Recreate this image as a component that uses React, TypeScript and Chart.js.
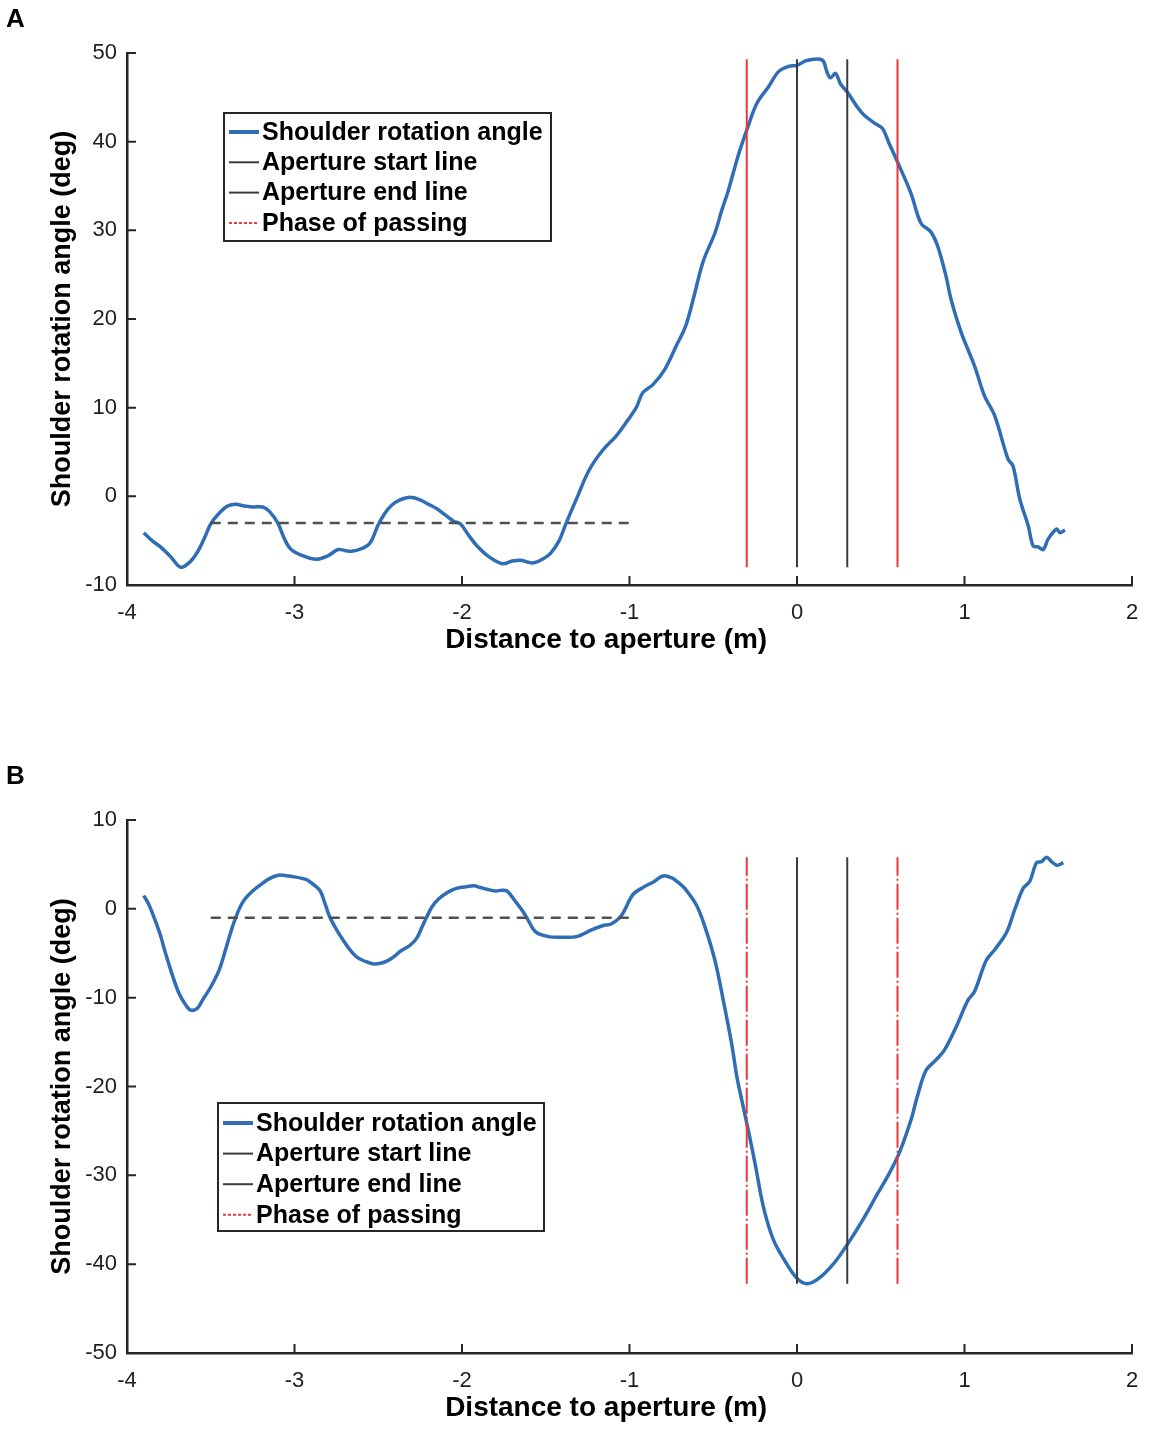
import { useEffect, useRef } from "react";
import { Chart, registerables } from "chart.js";

Chart.register(...registerables);

// ---- Panel A: shoulder rotation, first trial ----
const distA = [
  -3.9, -3.85, -3.8, -3.74, -3.68, -3.63, -3.58, -3.54, -3.5, -3.45, -3.4, -3.35, -3.3, -3.25,
  -3.19, -3.15, -3.1, -3.06, -3.02, -2.95, -2.87, -2.8, -2.74, -2.7, -2.66, -2.6, -2.55, -2.5,
  -2.46, -2.42, -2.37, -2.31, -2.25, -2.2, -2.15, -2.1, -2.05, -2.01, -1.96, -1.91, -1.84, -1.76,
  -1.7, -1.65, -1.61, -1.57, -1.52, -1.47, -1.42, -1.38, -1.31, -1.24, -1.16, -1.08, -1.01, -0.96,
  -0.92, -0.86, -0.79, -0.72, -0.665, -0.62, -0.56, -0.49, -0.45, -0.41, -0.35, -0.3, -0.24, -0.17,
  -0.11, -0.05, 0, 0.05, 0.1, 0.14, 0.16, 0.18, 0.2, 0.23, 0.26, 0.3, 0.36, 0.4, 0.47, 0.51, 0.55,
  0.6, 0.68, 0.74, 0.8, 0.84, 0.89, 0.92, 0.98, 1.06, 1.12, 1.18, 1.26, 1.29, 1.33, 1.38, 1.41,
  1.44, 1.47, 1.5, 1.55, 1.57, 1.6,
];
const angleA = [
  -4.1, -5.0, -5.7, -6.8, -8.0, -7.5, -6.3, -4.8, -3.1, -1.9, -1.1, -0.9, -1.1, -1.2,
  -1.2, -1.7, -3.0, -4.8, -6.0, -6.7, -7.1, -6.7, -6.0, -6.1, -6.2, -5.9, -5.3, -3.2,
  -1.9, -1.0, -0.4, -0.1, -0.4, -0.9, -1.4, -2.1, -2.8, -3.1, -4.4, -5.6, -6.8, -7.6,
  -7.3, -7.2, -7.4, -7.5, -7.1, -6.4, -5.0, -3.1, 0.0, 3.0, 5.2, 6.8, 8.6, 10.0,
  11.7, 12.6, 14.3, 17.0, 19.2, 22.2, 26.5, 29.7, 32.2, 34.5, 38.5, 41.3, 44.3, 46.2,
  47.9, 48.5, 48.6, 49.1, 49.3, 49.3, 49.0, 47.8, 47.2, 47.7, 46.5, 45.6, 43.9, 43.0, 42.0, 41.5, 39.8,
  37.7, 34.2, 30.8, 29.8, 28.2, 24.8, 22.2, 18.5, 14.7, 11.3, 9.1, 4.2, 3.4, -0.3, -3.3, -5.6,
  -5.7, -6.0, -4.8, -3.7, -4.1, -3.8,
];

// ---- Panel B: shoulder rotation, second trial ----
const distB = [
  -3.9, -3.87, -3.84, -3.8, -3.77, -3.73, -3.69, -3.65, -3.62, -3.58, -3.55, -3.5, -3.45, -3.41,
  -3.37, -3.33, -3.3, -3.25, -3.21, -3.15, -3.09, -3.04, -3.0, -2.95, -2.92, -2.85, -2.82, -2.79,
  -2.75, -2.71, -2.67, -2.63, -2.58, -2.53, -2.48, -2.44, -2.4, -2.37, -2.31, -2.27, -2.24, -2.21,
  -2.18, -2.14, -2.09, -2.05, -2.01, -1.97, -1.93, -1.89, -1.85, -1.8, -1.76, -1.73, -1.68, -1.64,
  -1.61, -1.56, -1.49, -1.4, -1.31, -1.23, -1.16, -1.11, -1.05, -0.98, -0.92, -0.86, -0.8, -0.75,
  -0.71, -0.67, -0.6, -0.55, -0.49, -0.44, -0.39, -0.36, -0.33, -0.29, -0.25, -0.2, -0.14, -0.07,
  0, 0.06, 0.13, 0.22, 0.3, 0.39, 0.48, 0.55, 0.61, 0.68, 0.72, 0.77, 0.83, 0.88, 0.95, 1.02,
  1.06, 1.13, 1.18, 1.25, 1.3, 1.35, 1.39, 1.43, 1.46, 1.49, 1.52, 1.55, 1.57, 1.59,
];
const angleB = [
  1.5, 0.5, -0.9, -3.0, -5.0, -7.4, -9.5, -10.8, -11.4, -11.2, -10.3, -8.8, -6.9, -4.5,
  -2.0, 0.0, 1.0, 2.0, 2.6, 3.4, 3.8, 3.7, 3.6, 3.4, 3.2, 2.1, 0.7, -0.9,
  -2.3, -3.5, -4.6, -5.4, -5.9, -6.2, -6.1, -5.8, -5.3, -4.8, -4.1, -3.3, -2.1, -0.9,
  0.2, 1.1, 1.8, 2.2, 2.4, 2.5, 2.6, 2.4, 2.2, 2.0, 2.1, 2.0, 0.8, -0.2,
  -1.1, -2.6, -3.1, -3.2, -3.1, -2.4, -1.9, -1.7, -0.8, 1.6, 2.4, 3.0, 3.7, 3.5,
  3.0, 2.3, 0.4, -2.0, -5.8, -10.3, -15.2, -18.8, -21.5, -25.0, -28.7, -33.6, -37.3, -39.7,
  -41.6, -42.2, -41.6, -39.9, -37.8, -35.1, -32.1, -29.8, -27.5, -23.8, -21.0, -18.2, -17.0, -15.9, -13.3, -10.3,
  -9.3, -5.8, -4.6, -2.7, -0.1, 2.3, 3.1, 5.2, 5.3, 5.8, 5.3, 4.9, 5.0, 5.2,
];

const xTicks = [-4, -3, -2, -1, 0, 1, 2];
const yTicksA = [-10, 0, 10, 20, 30, 40, 50];
const yTicksB = [-50, -40, -30, -20, -10, 0, 10];

const apertureStart = 0;
const apertureEnd = 0.3;
const phaseStart = -0.3;
const phaseEnd = 0.6;
const baselineFrom = -3.5;
const baselineTo = -1.0;
const baselineA = -3;
const baselineB = -1;

const INK = "#262626";
const BLUE = "#2f6db5";
const RED = "#e8383a";
const GRAY = "#3c3c3c";
const FONT = "Helvetica, Arial, 'Liberation Sans', sans-serif";

const matlabAxes = {
  id: "matlabAxes",
  afterDraw(chart: any, _args: any, opts: any) {
    const { ctx, chartArea } = chart;
    const xs = chart.scales.x;
    const ys = chart.scales.y;
    ctx.save();
    // inward tick marks
    ctx.strokeStyle = INK;
    ctx.lineWidth = 2;
    ctx.setLineDash([]);
    ctx.beginPath();
    xs.ticks.forEach((t: any) => {
      const px = xs.getPixelForValue(t.value);
      ctx.moveTo(px, chartArea.bottom);
      ctx.lineTo(px, chartArea.bottom - 9);
    });
    ys.ticks.forEach((t: any) => {
      const py = ys.getPixelForValue(t.value);
      ctx.moveTo(chartArea.left, py);
      ctx.lineTo(chartArea.left + 9, py);
    });
    ctx.stroke();

    // panel letter
    ctx.fillStyle = "#000";
    ctx.font = `bold 26px ${FONT}`;
    ctx.textBaseline = "alphabetic";
    ctx.textAlign = "left";
    ctx.fillText(opts.letter, 6, opts.letterBaseline);

    // boxed legend
    const lg = opts.legend;
    ctx.fillStyle = "#fff";
    ctx.fillRect(lg.left, lg.top, lg.width, lg.height);
    ctx.strokeStyle = INK;
    ctx.lineWidth = 2;
    ctx.strokeRect(lg.left, lg.top, lg.width, lg.height);
    const items = chart.data.datasets.filter((d: any) => d.inLegend);
    ctx.font = `bold 25px ${FONT}`;
    ctx.textBaseline = "middle";
    items.forEach((d: any, i: number) => {
      const y = lg.top + lg.firstRow + i * lg.rowGap;
      ctx.strokeStyle = d.borderColor;
      ctx.lineWidth = d.legendWidth ?? d.borderWidth;
      ctx.setLineDash(d.legendDash ?? []);
      ctx.beginPath();
      ctx.moveTo(lg.left + 5, y);
      ctx.lineTo(lg.left + 35, y);
      ctx.stroke();
      ctx.fillStyle = "#000";
      ctx.fillText(d.label, lg.left + 38, y + 1);
    });
    ctx.restore();
  },
};

interface PanelSpec {
  letter: string;
  letterBaseline: number;
  dist: number[];
  angle: number[];
  yTicks: number[];
  baseline: number;
  phaseDash: number[];
  padTop: number;
  xAxisHeight: number;
  xTitlePad: number;
  legend: { left: number; top: number; width: number; height: number; firstRow: number; rowGap: number };
}

function buildConfig(p: PanelSpec): any {
  const hi = Math.max(...p.angle);
  const lo = Math.min(...p.angle);
  const vline = (x: number, label: string, color: string, dash: number[], inLegend: boolean, legendDash?: number[]) => ({
    label,
    data: [{ x, y: lo }, { x, y: hi }],
    borderColor: color,
    borderWidth: 2,
    borderDash: dash,
    legendDash,
    inLegend,
    pointRadius: 0,
    order: 0,
  });
  return {
    type: "line",
    data: {
      datasets: [
        {
          label: "Shoulder rotation angle",
          data: p.dist.map((x, i) => ({ x, y: p.angle[i] })),
          borderColor: BLUE,
          borderWidth: 3.5,
          legendWidth: 4,
          tension: 0.35,
          pointRadius: 0,
          inLegend: true,
          order: 1,
        },
        vline(apertureStart, "Aperture start line", GRAY, [], true),
        vline(apertureEnd, "Aperture end line", GRAY, [], true),
        vline(phaseStart, "Phase of passing", RED, p.phaseDash, true, [3, 2]),
        vline(phaseEnd, "Phase of passing", RED, p.phaseDash, false),
        {
          label: "Baseline",
          data: [{ x: baselineFrom, y: p.baseline }, { x: baselineTo, y: p.baseline }],
          borderColor: "#505050",
          borderWidth: 2.5,
          borderDash: [10, 7],
          pointRadius: 0,
          inLegend: false,
          order: 0,
        },
      ],
    },
    options: {
      animation: false,
      responsive: false,
      events: [],
      layout: { padding: { top: p.padTop, right: 29, left: 0, bottom: 0 } },
      plugins: {
        legend: { display: false },
        tooltip: { enabled: false },
        matlabAxes: { letter: p.letter, letterBaseline: p.letterBaseline, legend: p.legend },
      },
      scales: {
        x: {
          type: "linear",
          min: -4,
          max: 2,
          afterBuildTicks: (s: any) => {
            s.ticks = xTicks.map((value) => ({ value }));
          },
          afterFit: (s: any) => {
            s.height = p.xAxisHeight;
          },
          grid: { display: false, drawTicks: false },
          border: { display: true, color: INK, width: 2.5 },
          ticks: { color: "#1e1e1e", font: { size: 22, family: FONT }, padding: 15, maxRotation: 0, autoSkip: false },
          title: {
            display: true,
            text: "Distance to aperture (m)      ",
            color: "#000",
            font: { size: 28, weight: "bold", family: FONT },
            padding: { top: 0, bottom: p.xTitlePad },
          },
        },
        y: {
          type: "linear",
          min: p.yTicks[0],
          max: p.yTicks[p.yTicks.length - 1],
          afterBuildTicks: (s: any) => {
            s.ticks = p.yTicks.map((value) => ({ value }));
          },
          afterFit: (s: any) => {
            s.width = 127;
          },
          grid: { display: false, drawTicks: false },
          border: { display: true, color: INK, width: 2.5 },
          ticks: { color: "#1e1e1e", font: { size: 22, family: FONT }, padding: 10 },
          title: {
            display: true,
            text: "Shoulder rotation angle (deg)",
            color: "#000",
            font: { size: 27, weight: "bold", family: FONT },
            padding: { top: 46, bottom: 0 },
          },
        },
      },
    },
    plugins: [matlabAxes],
  };
}

function Panel({ spec }: { spec: PanelSpec }) {
  const canvasRef = useRef<HTMLCanvasElement>(null);

  useEffect(() => {
    if (!canvasRef.current) return;
    const chart = new Chart(canvasRef.current, buildConfig(spec));
    return () => chart.destroy();
  }, [spec]);

  return <canvas ref={canvasRef} width={1161} height={719} style={{ display: "block" }} />;
}

const panelA: PanelSpec = {
  letter: "A",
  letterBaseline: 27,
  dist: distA,
  angle: angleA,
  yTicks: yTicksA,
  baseline: baselineA,
  phaseDash: [],
  padTop: 53,
  xAxisHeight: 134,
  xTitlePad: 62,
  legend: { left: 224, top: 113, width: 327, height: 128, firstRow: 19, rowGap: 30.3 },
};

const panelB: PanelSpec = {
  letter: "B",
  letterBaseline: 65,
  dist: distB,
  angle: angleB,
  yTicks: yTicksB,
  baseline: baselineB,
  phaseDash: [26, 3, 2, 3],
  padTop: 101,
  xAxisHeight: 85,
  xTitlePad: 13,
  legend: { left: 218, top: 384, width: 326, height: 128, firstRow: 20, rowGap: 30.6 },
};

export default function App() {
  return (
    <div style={{ position: "absolute", left: 0, top: 0, width: 1161, background: "#fff" }}>
      <Panel spec={panelA} />
      <Panel spec={panelB} />
    </div>
  );
}
